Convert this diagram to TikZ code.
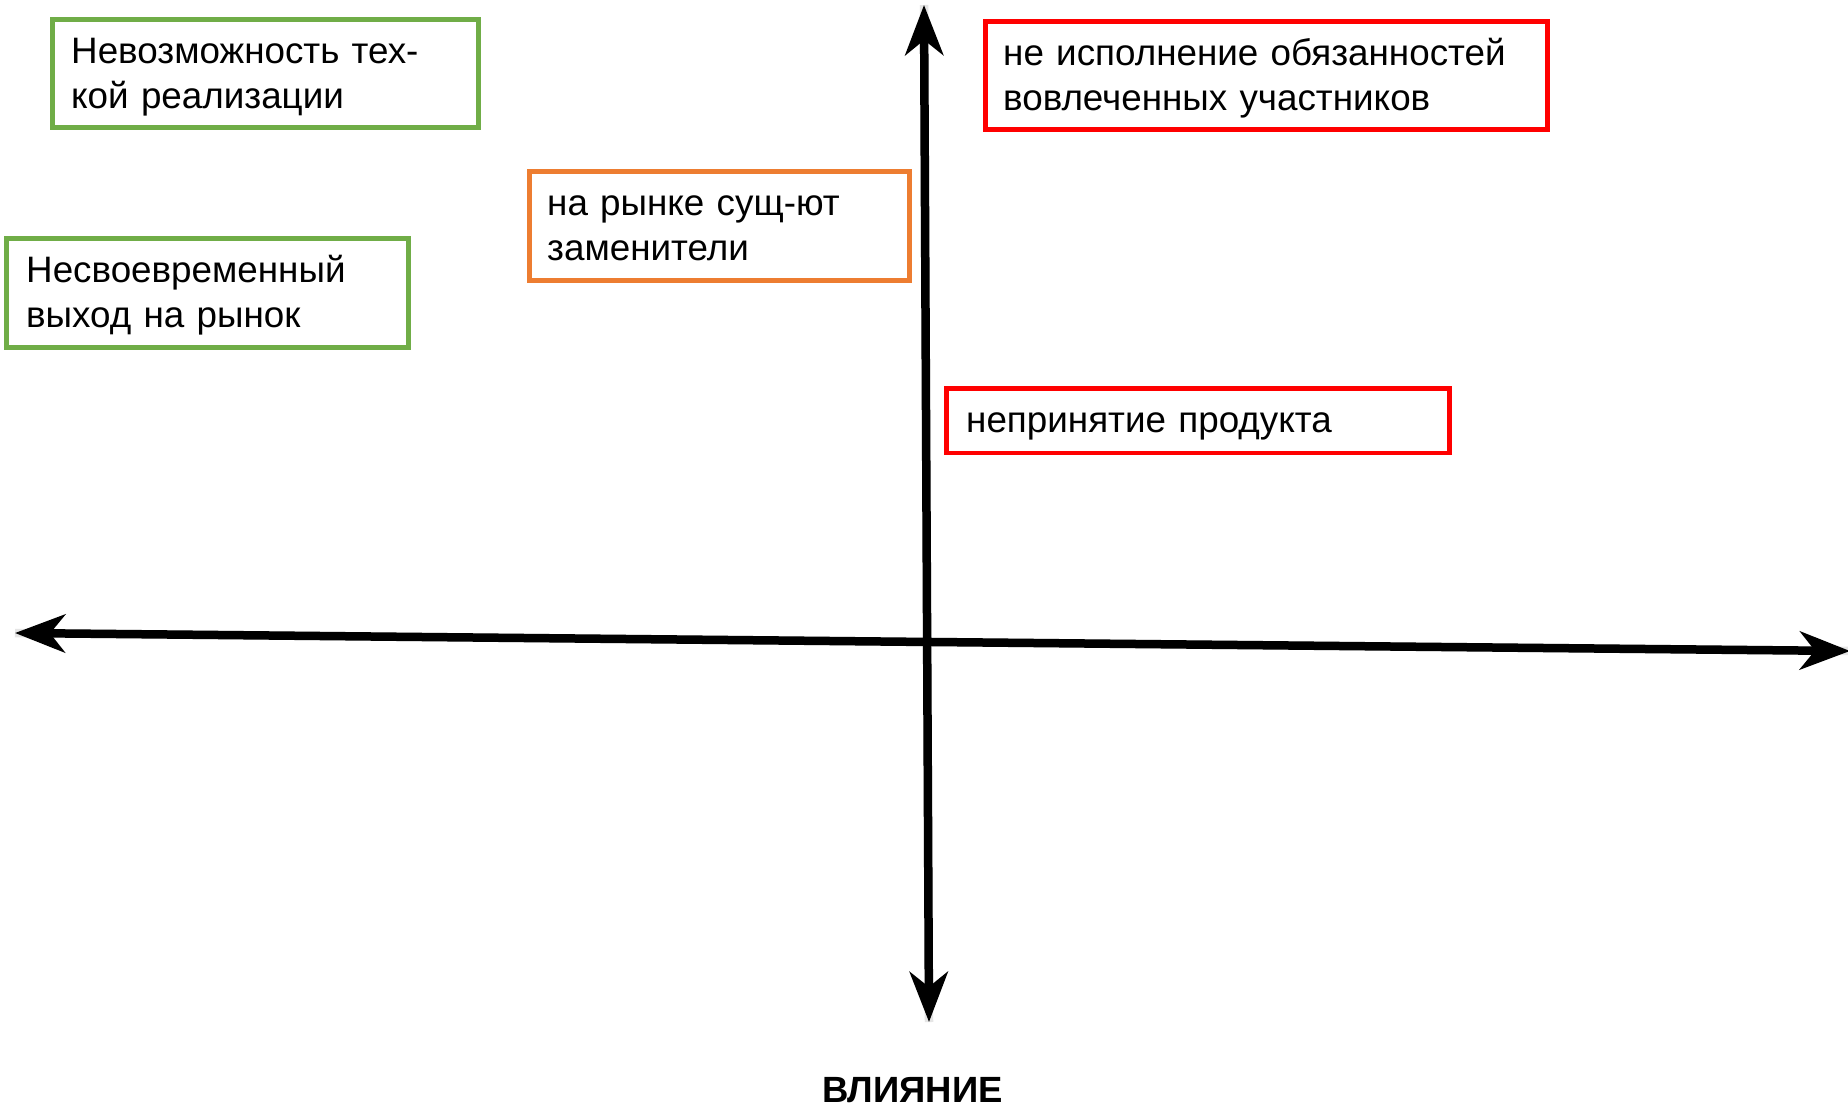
\documentclass[tikz,border=0pt]{standalone}
\usepackage{fontspec}
\setmainfont{Liberation Sans}
\usetikzlibrary{arrows.meta}
\definecolor{boxgreen}{HTML}{70AD47}
\definecolor{boxorange}{HTML}{ED7D31}
\definecolor{boxred}{HTML}{FF0000}
\tikzset{
  riskbox/.style={draw, line width=4.8pt},
  boxtext/.style={anchor=base west, inner sep=0pt, align=left, text width=#1,
    font=\fontsize{36.8}{45}\selectfont},
  axisline/.style={line width=8.5pt, draw=black,
    {Stealth[length=50pt,width=38pt,inset=15pt]}-{Stealth[length=50pt,width=38pt,inset=15pt]}},
  axisshadow/.style={line width=8.5pt, draw=black!20, opacity=0.5, shift={(2pt,-4pt)}},
  axislabel/.style={anchor=base west, inner sep=0pt, font=\fontsize{36.5}{40}\selectfont\bfseries}
}
\begin{document}
\begin{tikzpicture}[x=1pt,y=-1pt]
\useasboundingbox[fill=white] (0,0) rectangle (1848,1106);
% boxes
\draw[riskbox, draw=boxgreen] (52.5,19.5) rectangle (478.5,127.5);
\draw[riskbox, draw=boxgreen] (6.5,238.5) rectangle (408.5,347.5);
\draw[riskbox, draw=boxorange] (529.5,171.5) rectangle (909.5,280.5);
\draw[riskbox, draw=boxred] (985.5,21.5) rectangle (1547.5,129.5);
\draw[riskbox, draw=boxred] (946.5,388.5) rectangle (1449.5,453);
% texts
\node[boxtext=400pt] (t1) at (71,63) {Невозможность тех-\\кой реализации};
\node[boxtext=380pt] (t2) at (26,282) {Несвоевременный\\выход на рынок};
\node[boxtext=360pt] (t3) at (547,215) {на рынке сущ-ют\\заменители};
\node[boxtext=540pt] (t4) at (1003,65) {не исполнение обязанностей\\вовлеченных участников};
\node[boxtext=480pt] (t5) at (966,432) {непринятие продукта};
% axes
\coordinate (top) at (924,5);
\coordinate (bottom) at (929,1022);
\coordinate (left) at (15,633);
\coordinate (right) at (1850,651);
\draw[axisshadow] (bottom) -- (top);
\draw[axisshadow] (left) -- (right);
\draw[axisline] (bottom) -- (top);
\draw[axisline] (left) -- (right);
\node[axislabel] (lbl) at (822,1102) {ВЛИЯНИЕ};
\end{tikzpicture}
\end{document}
